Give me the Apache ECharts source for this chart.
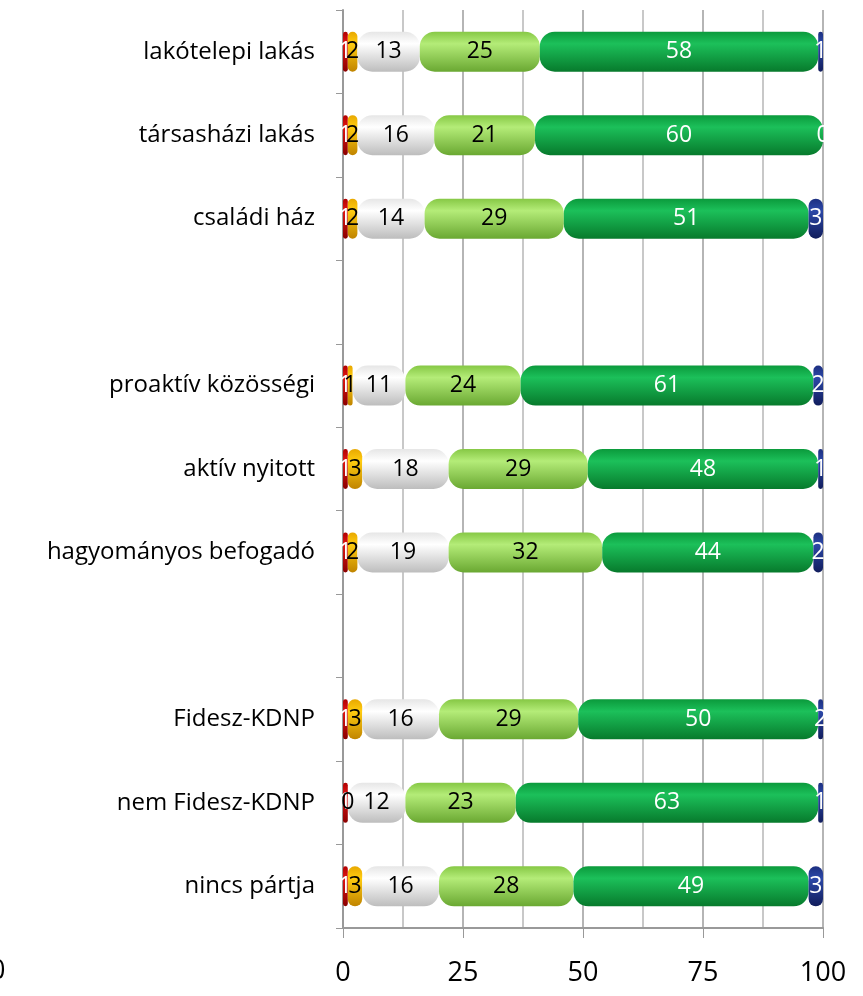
<!DOCTYPE html>
<html>
<head>
<meta charset="UTF-8">
<script type="text/javascript" src="https://cdn.jsdelivr.net/npm/echarts@6/dist/echarts.min.js"></script>
<title>stacked bars</title>
<style>
	html, body { margin: 0; padding: 0; background: #fff; }
	#main { width: 863px; height: 996px; }
</style>
</head>
<body>
<div id="main"></div>
<script>
	// kategóriák felülről lefelé (üres sorok = elválasztó)
	var categories = ['lakótelepi lakás', 'társasházi lakás', 'családi ház', ' ',
		'proaktív közösségi', 'aktív nyitott', 'hagyományos befogadó', '  ',
		'Fidesz-KDNP', 'nem Fidesz-KDNP', 'nincs pártja'];

	var red        = [1, 1, 1, null, 1, 1, 1, null, 1, 1, 1];
	var yellow     = [2, 2, 2, null, 1, 3, 2, null, 3, 0, 3];
	var white      = [13, 16, 14, null, 11, 18, 19, null, 16, 12, 16];
	var lightGreen = [25, 21, 29, null, 24, 29, 32, null, 29, 23, 28];
	var darkGreen  = [58, 60, 51, null, 61, 48, 44, null, 50, 63, 49];
	var blue       = [1, 0, 3, null, 2, 1, 2, null, 2, 1, 3];

	var xTicks = [0, 25, 50, 75, 100];

	var font = '"Open Sans", sans-serif';

	function grad(top, mid, bottom) {
		return new echarts.graphic.LinearGradient(0, 0, 0, 1, [
			{offset: 0, color: top},
			{offset: 0.3, color: mid},
			{offset: 1, color: bottom}
		]);
	}

	function makeSeries(name, data, fill, labelColor) {
		return {
			name: name,
			type: 'bar',
			stack: 'total',
			barWidth: 40,
			data: data,
			itemStyle: {
				color: fill,
				borderRadius: 15
			},
			label: {
				show: true,
				position: 'inside',
				color: labelColor,
				fontFamily: font,
				fontSize: 23
			}
		};
	}

	var myChart = echarts.init(document.getElementById('main'), null, {renderer: 'canvas'});

	myChart.setOption({
		animation: false,
		grid: {
			left: 343,
			right: 40,
			top: 10,
			bottom: 68
		},
		xAxis: {
			type: 'value',
			min: 0,
			max: 100,
			interval: 25,
			axisLine: {show: true, lineStyle: {color: '#999', width: 2}},
			axisTick: {show: true, length: 10, lineStyle: {color: '#999', width: 1}},
			axisLabel: {
				margin: 32,
				color: '#000',
				fontFamily: font,
				fontSize: 27,
				formatter: function(v) {
					return xTicks.indexOf(v) >= 0 ? v : '';
				}
			},
			splitLine: {show: true, lineStyle: {color: '#b5b5b5', width: 2}},
			minorTick: {show: false, splitNumber: 2},
			minorSplitLine: {show: true, lineStyle: {color: '#c8c8c8', width: 2}}
		},
		yAxis: {
			type: 'category',
			inverse: true,
			data: categories,
			axisLine: {show: true, lineStyle: {color: '#999', width: 2}},
			axisTick: {show: true, length: 7, lineStyle: {color: '#999'}},
			axisLabel: {
				margin: 28,
				color: '#000',
				fontFamily: font,
				fontSize: 24
			}
		},
		graphic: [{
			type: 'text',
			left: -10,
			top: 958,
			style: {text: '0', font: '27px "Open Sans", sans-serif', fill: '#000'}
		}],
		series: [
			makeSeries('red', red, grad('#b00000', '#e01515', '#8a0000'), '#fff'),
			makeSeries('yellow', yellow, grad('#e8a800', '#ffcc10', '#c08400'), '#000'),
			makeSeries('white', white, grad('#e6e6e6', '#ffffff', '#bdbdbd'), '#000'),
			makeSeries('lightGreen', lightGreen, grad('#86c845', '#b4ec78', '#6aa832'), '#000'),
			makeSeries('darkGreen', darkGreen, grad('#0b9a3c', '#1cc05a', '#077a2c'), '#fff'),
			makeSeries('blue', blue, grad('#1c2f80', '#2c48a8', '#111d5c'), '#fff')
		]
	});
</script>
</body>
</html>
